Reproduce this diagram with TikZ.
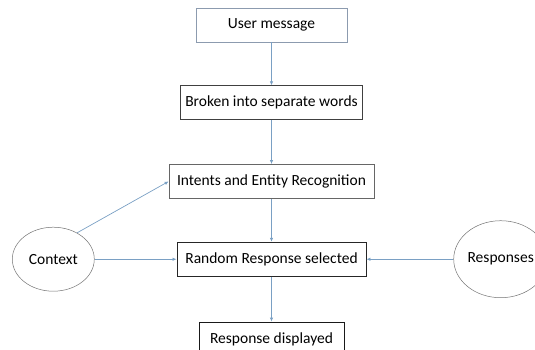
\documentclass[tikz,border=0pt]{standalone}
\usepackage{fontspec}
\setmainfont{Carlito}
\usetikzlibrary{shapes.geometric, arrows.meta, positioning}
\definecolor{linkblue}{RGB}{122,160,196}
\definecolor{paleedge}{RGB}{140,155,175}

\begin{document}
\begin{tikzpicture}[
    node distance=43pt,
    font=\fontsize{15.5}{18}\selectfont,
    box/.style={rectangle, draw=#1, line width=0.7pt, minimum height=34pt, inner sep=3pt},
    box/.default={black!70},
    oval/.style={ellipse, draw=black!55, line width=0.5pt, inner sep=0pt},
    arrow/.style={-{Latex[length=4pt,width=3.5pt]}, draw=linkblue, line width=0.7pt}
  ]
    \useasboundingbox (-271.5pt,25pt) rectangle (263.5pt,-324pt);
    \node[box=paleedge, minimum width=151pt] (user) {User message};
    \node[box=black!75, minimum width=182pt, below=43pt of user] (split) {Broken into separate words};
    \node[box=black!60, minimum width=205pt, below=44pt of split] (intent) {Intents and Entity Recognition};
    \node[box=black!85, line width=0.9pt, minimum width=189pt, below=43pt of intent] (select) {Random Response selected};
    \node[box=black!90, line width=0.9pt, minimum width=145pt, below=45pt of select] (shown) {Response displayed};
    \node[oval, minimum width=82pt, minimum height=64pt, left=82pt of select] (context) {Context};
    \node[oval, minimum width=94pt, minimum height=77pt, right=87pt of select] (resp) {Responses};
    \draw[arrow] (user) -- (split);
    \draw[arrow] (split) -- (intent);
    \draw[arrow] (intent) -- (select);
    \draw[arrow] (select) -- (shown);
    \draw[arrow] (context.48) -- (intent.west);
    \draw[arrow] (context) -- (select);
    \draw[arrow] (resp) -- (select);
  \end{tikzpicture}
\end{document}
